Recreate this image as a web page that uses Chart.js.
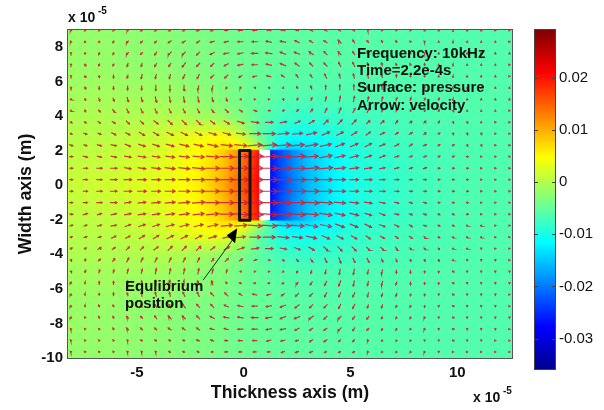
<!DOCTYPE html>
<html>
<head>
    <meta charset="UTF-8" />
    <title>Pressure and velocity</title>
    <script src="https://cdn.jsdelivr.net/npm/chart.js@4.4.9/dist/chart.umd.min.js"></script>
    <style>
        body { margin: 0; background: #fff; }
        canvas { position: absolute; top: 0; }
    </style>
</head>
<body>
    <canvas id="main" width="604" height="410" style="left:0"></canvas>
    <canvas id="bar" width="84" height="410" style="left:520px"></canvas>
<script>
    // axes (x and y in units of 1e-5 m)
    const xMin = -8.22, xMax = 12.56, yMin = -10, yMax = 8.98;
    const xTicks = [-5, 0, 5, 10];
    const yTicks = [-10, -8, -6, -4, -2, 0, 2, 4, 6, 8];
    const colorMin = -0.0358, colorMax = 0.0291;
    const colorTicks = [-0.03, -0.02, -0.01, 0, 0.01, 0.02];

    // pressure surface, in units of 1e-3
    const gridX = [-8.22, -6, -4, -3, -2, -1, -0.22, 0.3, 0.73, 1.24, 1.7, 2.3, 3, 4, 5, 6, 8, 10, 12.56];
    const gridY = [8.98, 7, 5, 4, 3, 2.5, 2.1, 2, 1, 0, -1, -2, -2.1, -2.5, -3, -4, -5, -7, -10];
    const pressure = [
        [-1.9,-2.2,-2.7,-3.1,-3.6,-4,-4.4,-4.6,-4.8,-5,-5.2,-5.4,-5.5,-5.7,-5.9,-6,-6.1,-6.2,-6.2],
        [-1.7,-2,-2.5,-2.9,-3.4,-3.9,-4.4,-4.7,-4.9,-5.1,-5.3,-5.5,-5.7,-5.9,-6,-6.1,-6.2,-6.2,-6.2],
        [-1,-1,-1.2,-1.6,-2.5,-3.2,-4.1,-4.8,-5.1,-5.6,-6,-6.3,-6.5,-6.6,-6.6,-6.5,-6.4,-6.3,-6.2],
        [-0.4,-0.4,-0.2,-0.2,-1.1,-2,-3.3,-4.5,-5.5,-6.5,-7.3,-7.9,-8.1,-8,-7.6,-7.3,-6.7,-6.4,-6.3],
        [0,0.3,1.1,2.2,2.8,3.3,0.8,-2.2,-5.5,-7.5,-9.5,-10.5,-10.5,-9.5,-8.5,-7.8,-7,-6.5,-6.3],
        [0.2,0.6,1.7,3.1,4.5,5.8,4,1,-3,-7,-11,-12.5,-12,-10.8,-9.2,-8.2,-7.1,-6.6,-6.3],
        [0.3,0.8,2,3.3,4.8,6.5,6.5,4,0.5,-9,-13.5,-14.5,-13.5,-11.5,-9.6,-8.4,-7.2,-6.6,-6.3],
        [0.35,0.9,2.1,3.5,5,7.5,12,16,20,-26,-23,-19,-15,-12,-9.8,-8.6,-7.4,-6.6,-6.3],
        [0.8,1.4,2.7,3.8,5.5,8.6,13,17,20.5,-27,-23,-19,-15.5,-12.5,-10,-9,-7.5,-6.6,-6.3],
        [1.2,1.9,3.2,4.3,6,10,14.5,18,21,-28,-24,-20,-16,-12.8,-10,-9.2,-7.5,-6.6,-6.3],
        [0.8,1.4,2.7,3.8,5.5,8.6,13,17,20.5,-27,-23,-19,-15.5,-12.5,-10,-9,-7.5,-6.6,-6.3],
        [0.35,0.9,2.1,3.5,5,7.5,12,16,20,-26,-23,-19,-15,-12,-9.8,-8.6,-7.4,-6.6,-6.3],
        [0.3,0.8,2,3.3,4.8,6.5,6.5,4,0.5,-9,-13.5,-14.5,-13.5,-11.5,-9.6,-8.4,-7.2,-6.6,-6.3],
        [0.2,0.6,1.7,3.1,4.5,5.8,4,1,-3,-7,-11,-12.5,-12,-10.8,-9.2,-8.2,-7.1,-6.6,-6.3],
        [0,0.3,1.1,2.2,2.8,3.3,0.8,-2.2,-5.5,-7.5,-9.5,-10.5,-10.5,-9.5,-8.5,-7.8,-7,-6.5,-6.3],
        [-0.4,-0.4,-0.2,-0.2,-1.1,-2,-3.3,-4.5,-5.5,-6.5,-7.3,-7.9,-8.1,-8,-7.6,-7.3,-6.7,-6.4,-6.3],
        [-1,-1,-1.2,-1.6,-2.5,-3.2,-4.1,-4.8,-5.1,-5.6,-6,-6.3,-6.5,-6.6,-6.6,-6.5,-6.4,-6.3,-6.2],
        [-1.7,-2,-2.5,-2.9,-3.4,-3.9,-4.4,-4.7,-4.9,-5.1,-5.3,-5.5,-5.7,-5.9,-6,-6.1,-6.2,-6.2,-6.2],
        [-1.9,-2.2,-2.7,-3.1,-3.6,-4,-4.4,-4.6,-4.8,-5,-5.2,-5.4,-5.5,-5.7,-5.9,-6,-6.1,-6.2,-6.2]
    ];

    // velocity arrows
    const arrowX = [-8.08,-7.42,-6.76,-6.09,-5.43,-4.77,-4.11,-3.45,-2.79,-2.12,-1.46,-0.8,-0.14,0.53,1.19,1.85,2.51,3.17,3.84,4.5,5.16,5.82,6.48,7.15,7.81,8.47,9.13,9.8,10.46,11.12,11.78,12.44];
    const arrowY = [8.96,8.3,7.63,6.97,6.3,5.64,4.97,4.31,3.64,2.98,2.31,1.65,0.98,0.32,-0.35,-1.01,-1.68,-2.34,-3.01,-3.67,-4.34,-5,-5.67,-6.33,-7,-7.66,-8.33,-8.99,-9.65];
    const arrowU = [
        [-1,-1,-1,-1,-1,-2,-2,-2,-2,-3,-3,-3,-4,-4,-4,-4,-3,-3,-3,-2,-2,-1,-1,-1,-1,0,0,0,0,0,0,0],
        [-1,-1,-1,-1,-2,-2,-2,-3,-3,-3,-4,-4,-5,-5,-5,-5,-4,-3,-3,-3,-2,-2,-1,-1,-1,-1,0,0,0,0,0,0],
        [0,-1,-1,-1,-2,-2,-2,-3,-3,-3,-4,-5,-5,-6,-6,-5,-5,-4,-3,-3,-2,-2,-1,-1,-1,-1,0,0,0,0,0,0],
        [0,0,-1,-1,-1,-1,-2,-2,-3,-3,-3,-4,-5,-5,-5,-5,-4,-3,-3,-2,-2,-1,-1,-1,-1,0,0,0,0,0,0,0],
        [0,0,0,0,-1,-1,-1,-1,-2,-2,-3,-3,-3,-4,-4,-3,-2,-2,-2,-1,-1,-1,-1,0,0,0,0,0,0,0,0,0],
        [0,0,0,0,0,0,0,0,0,-1,-1,-1,-1,-1,-1,0,-1,-1,0,0,0,0,0,0,0,0,0,0,0,0,0,0],
        [1,1,1,1,1,1,1,1,1,1,1,1,1,0,0,1,1,1,1,1,1,1,1,1,1,1,1,0,0,0,0,0],
        [1,1,2,2,2,2,2,2,2,2,2,3,3,3,2,2,2,2,2,2,2,2,1,1,1,1,1,1,0,0,0,0],
        [2,2,3,3,3,3,4,4,4,4,4,5,6,7,7,6,5,5,4,4,4,3,3,2,2,2,1,1,1,0,0,0],
        [2,3,3,4,4,5,5,6,6,6,7,7,8,10,11,10,9,9,7,6,5,4,4,3,3,2,2,1,1,1,1,0],
        [3,3,4,5,5,6,6,7,8,8,9,10,11,12,13,13,12,11,10,8,7,6,5,4,3,3,2,2,1,1,1,1],
        [3,4,4,5,6,7,7,8,9,10,11,12,13,14,14,15,14,12,11,9,8,6,5,4,3,3,2,2,2,1,1,1],
        [3,4,5,6,6,7,8,9,10,11,12,13,13,14,15,15,14,13,12,10,8,7,5,4,3,3,2,2,2,1,1,1],
        [3,4,5,6,7,8,8,9,10,11,12,13,14,14,15,15,15,13,12,10,8,7,5,4,3,3,2,2,2,1,1,1],
        [3,4,5,6,7,8,8,9,10,11,12,13,14,14,15,15,15,13,12,10,8,7,5,4,3,3,2,2,2,1,1,1],
        [3,4,5,6,6,7,8,9,10,11,12,13,13,14,15,15,14,13,12,10,8,7,5,4,3,3,2,2,2,1,1,1],
        [3,4,4,5,6,7,7,8,9,10,11,12,13,14,14,15,14,12,11,9,8,6,5,4,3,3,2,2,2,1,1,1],
        [3,3,4,5,5,6,6,7,8,8,9,10,11,12,13,13,12,11,10,8,7,6,5,4,3,3,2,2,1,1,1,1],
        [2,3,3,4,4,5,5,6,6,6,7,7,8,10,11,10,9,9,7,6,5,4,4,3,3,2,2,1,1,1,1,0],
        [2,2,3,3,3,3,4,4,4,4,4,5,6,7,7,6,5,5,4,4,4,3,3,2,2,2,1,1,1,0,0,0],
        [1,1,2,2,2,2,2,2,2,2,2,3,3,3,2,2,2,2,2,2,2,2,1,1,1,1,1,1,0,0,0,0],
        [1,1,1,1,1,1,1,1,1,1,1,1,1,0,0,-1,-1,-1,-1,-1,-1,-1,-1,0,0,0,0,0,0,0,0,0],
        [0,0,0,0,0,0,0,0,0,-1,-1,-1,-2,-2,-2,-2,-2,-2,-2,-2,-1,-1,-1,-1,0,0,0,0,0,0,0,0],
        [0,0,0,0,-1,-1,-1,-1,-2,-2,-3,-3,-3,-4,-4,-3,-3,-3,-2,-2,-2,-1,-1,-1,0,0,0,0,0,0,0,0],
        [0,0,-1,-1,-1,-1,-2,-2,-3,-3,-3,-4,-5,-5,-5,-5,-4,-3,-3,-2,-2,-1,-1,-1,-1,0,0,0,0,0,0,0],
        [0,-1,-1,-1,-2,-2,-2,-3,-3,-3,-4,-5,-5,-6,-6,-5,-5,-4,-3,-3,-2,-2,-1,-1,-1,-1,0,0,0,0,0,0],
        [-1,-1,-1,-1,-2,-2,-2,-3,-3,-3,-4,-4,-5,-5,-5,-5,-4,-3,-3,-3,-2,-2,-1,-1,-1,-1,0,0,0,0,0,0],
        [-1,-1,-1,-1,-1,-2,-2,-2,-2,-3,-3,-3,-4,-4,-4,-4,-3,-3,-3,-2,-2,-1,-1,-1,-1,0,0,0,0,0,0,0],
        [-1,-1,-1,-1,-1,-1,-1,-2,-2,-2,-2,-3,-3,-3,-3,-3,-3,-3,-2,-2,-2,-1,-1,-1,-1,-1,0,0,0,0,0,0]
    ];
    const arrowV = [
        [-1,-1,-1,-1,-1,-1,-1,-1,-1,-1,-1,0,0,0,1,1,1,2,2,2,2,1,1,1,1,1,1,1,1,1,0,0],
        [-1,-1,-1,-2,-2,-2,-2,-2,-2,-2,-1,-1,0,0,1,1,2,2,2,3,3,2,2,2,1,1,1,1,1,1,1,0],
        [-1,-1,-2,-2,-2,-2,-3,-3,-3,-3,-2,-1,-1,0,1,2,2,3,3,3,3,3,2,2,2,1,1,1,1,1,1,1],
        [-1,-2,-2,-2,-3,-3,-3,-3,-4,-3,-3,-2,-1,0,1,2,3,3,3,4,4,3,3,2,2,2,1,1,1,1,1,0],
        [-1,-2,-2,-3,-3,-4,-4,-4,-4,-4,-3,-3,-2,-1,1,2,3,3,4,4,4,4,3,3,2,2,1,1,1,1,1,0],
        [-2,-2,-3,-3,-4,-4,-5,-5,-5,-4,-4,-2,-1,0,0,1,2,3,4,5,5,4,4,3,3,2,2,1,1,1,1,1],
        [-1,-2,-3,-3,-4,-4,-5,-5,-5,-5,-4,-3,-1,0,0,1,2,3,4,5,5,4,4,3,3,2,2,1,1,1,1,1],
        [-1,-2,-2,-3,-4,-4,-4,-4,-4,-4,-3,-3,-2,-1,0,1,2,3,4,5,4,4,3,3,2,2,2,1,1,1,1,0],
        [-1,-1,-2,-2,-3,-3,-3,-4,-4,-4,-3,-3,-2,-1,0,1,2,3,4,4,4,3,3,3,2,2,2,1,1,1,0,0],
        [-1,-1,-1,-2,-2,-3,-3,-3,-3,-3,-2,-2,-1,0,0,1,1,2,3,3,3,3,2,2,2,2,1,1,1,1,0,0],
        [-1,-1,-1,-1,-2,-2,-2,-2,-2,-2,-2,-1,-1,1,1,1,1,2,2,3,3,3,2,2,2,1,1,1,1,1,0,0],
        [0,-1,-1,-1,-1,-1,-1,-1,-1,-1,-1,0,1,1,1,0,1,1,2,2,2,2,2,1,1,1,1,1,0,0,0,0],
        [0,0,0,0,-1,-1,-1,-1,-1,-1,0,0,0,0,0,0,0,1,1,1,1,1,1,1,1,1,0,0,0,0,0,0],
        [0,0,0,0,0,0,0,0,0,0,0,0,0,0,0,0,0,0,0,0,0,0,0,0,0,0,0,0,0,0,0,0],
        [0,0,0,0,0,0,0,0,0,0,0,0,0,0,0,0,0,0,0,0,0,0,0,0,0,0,0,0,0,0,0,0],
        [0,0,0,0,1,1,1,1,1,1,0,0,0,0,0,0,0,-1,-1,-1,-1,-1,-1,-1,-1,-1,0,0,0,0,0,0],
        [0,1,1,1,1,1,1,1,1,1,1,0,-1,-1,-1,0,-1,-1,-2,-2,-2,-2,-2,-1,-1,-1,-1,-1,0,0,0,0],
        [1,1,1,1,2,2,2,2,2,2,2,1,1,-1,-1,-1,-1,-2,-2,-3,-3,-3,-2,-2,-2,-1,-1,-1,-1,-1,0,0],
        [1,1,1,2,2,3,3,3,3,3,2,2,1,0,0,-1,-1,-2,-3,-3,-3,-3,-2,-2,-2,-2,-1,-1,-1,-1,0,0],
        [1,1,2,2,3,3,3,4,4,4,3,3,2,1,0,-1,-2,-3,-4,-4,-4,-3,-3,-3,-2,-2,-2,-1,-1,-1,0,0],
        [1,2,2,3,4,4,4,4,4,4,3,3,2,1,0,-1,-2,-3,-4,-5,-4,-4,-3,-3,-2,-2,-2,-1,-1,-1,-1,0],
        [1,2,3,3,4,4,5,5,5,5,4,3,1,0,0,-1,-2,-3,-4,-5,-5,-4,-4,-3,-3,-2,-2,-1,-1,-1,-1,-1],
        [2,2,3,3,4,4,5,5,5,4,4,2,1,0,0,-1,-2,-3,-4,-5,-5,-4,-4,-3,-3,-2,-2,-1,-1,-1,-1,-1],
        [1,2,2,3,3,4,4,4,4,4,3,3,2,1,-1,-2,-3,-3,-4,-4,-4,-4,-3,-3,-2,-2,-1,-1,-1,-1,-1,0],
        [1,2,2,2,3,3,3,3,4,3,3,2,1,0,-1,-2,-3,-3,-3,-4,-4,-3,-3,-2,-2,-2,-1,-1,-1,-1,-1,0],
        [1,1,2,2,2,2,3,3,3,3,2,1,1,0,-1,-2,-2,-3,-3,-3,-3,-3,-2,-2,-2,-1,-1,-1,-1,-1,-1,-1],
        [1,1,1,2,2,2,2,2,2,2,1,1,0,0,-1,-1,-2,-2,-2,-3,-3,-2,-2,-2,-1,-1,-1,-1,-1,-1,-1,0],
        [1,1,1,1,1,1,1,1,1,1,1,0,0,0,-1,-1,-1,-2,-2,-2,-2,-1,-1,-1,-1,-1,-1,-1,-1,-1,0,0],
        [1,1,1,1,1,1,1,1,1,1,0,0,0,0,0,-1,-1,-1,-1,-1,-1,-1,-1,-1,-1,-1,-1,0,0,0,0,0]
    ];

    // plate outline, gap beside it and the pointer to it
    const plateX = [-0.19, 0.3, 0.3, -0.19, -0.19, 0.3];
    const plateY = [2, 2, -2.03, -2.03, 2, 2];
    const gapX = [0.73, 1.24, 1.24, 0.73];
    const gapY = [2.03, 2.03, -2.03, -2.03];
    const pointerX = [-1.9, -0.45];
    const pointerY = [-5.5, -3.05];
    const pointerHeadX = [-0.3, -0.79, -0.4];
    const pointerHeadY = [-2.49, -2.9, -3.36];

    const jetStops = [[0, 0, 0, 143], [0.125, 0, 0, 255], [0.375, 0, 255, 255], [0.625, 255, 255, 0], [0.875, 255, 0, 0], [1, 128, 0, 0]];

    function jet(t) {
        t = Math.min(1, Math.max(0, t));
        for (let i = 1; i < jetStops.length; i++) {
            const a = jetStops[i - 1], b = jetStops[i];
            if (t <= b[0]) {
                const f = (t - a[0]) / (b[0] - a[0]);
                return [a[1] + f * (b[1] - a[1]), a[2] + f * (b[2] - a[2]), a[3] + f * (b[3] - a[3])];
            }
        }
    }

    function cellIndex(list, v, descending) {
        for (let i = 0; i < list.length - 2; i++) {
            if (descending ? v >= list[i + 1] : v <= list[i + 1]) return i;
        }
        return list.length - 2;
    }

    // Surface shading, drawn like MATLAB's "shading interp"
    const surfacePlugin = {
        id: 'surface',
        beforeDatasetsDraw(chart) {
            const a = chart.chartArea, sx = chart.scales.x, sy = chart.scales.y;
            const l = Math.round(a.left), t = Math.round(a.top);
            const w = Math.round(a.right) - l, h = Math.round(a.bottom) - t;
            const img = chart.ctx.createImageData(w, h);
            for (let py = 0; py < h; py++) {
                const vy = sy.getValueForPixel(t + py + 0.5);
                const j = cellIndex(gridY, vy, true);
                const fy = Math.min(1, Math.max(0, (vy - gridY[j]) / (gridY[j + 1] - gridY[j])));
                for (let px = 0; px < w; px++) {
                    const vx = sx.getValueForPixel(l + px + 0.5);
                    const i = cellIndex(gridX, vx, false);
                    const fx = Math.min(1, Math.max(0, (vx - gridX[i]) / (gridX[i + 1] - gridX[i])));
                    const top = pressure[j][i] * (1 - fx) + pressure[j][i + 1] * fx;
                    const bot = pressure[j + 1][i] * (1 - fx) + pressure[j + 1][i + 1] * fx;
                    const p = (top * (1 - fy) + bot * fy) / 1000;
                    const c = jet((p - colorMin) / (colorMax - colorMin));
                    const k = (py * w + px) * 4;
                    img.data[k] = c[0]; img.data[k + 1] = c[1]; img.data[k + 2] = c[2]; img.data[k + 3] = 255;
                }
            }
            chart.ctx.putImageData(img, l, t);
        }
    };

    // Frame and texts on top of everything
    const labels = [
        ['Frequency: 10kHz', 357, 58], ['Time=2.2e-4s', 357, 75],
        ['Surface: pressure', 357, 92], ['Arrow: velocity', 357, 110],
        ['Equlibrium', 125, 291], ['position', 125, 308]
    ];
    const overlayPlugin = {
        id: 'overlay',
        afterDatasetsDraw(chart) {
            const c = chart.ctx, a = chart.chartArea;
            c.save();
            c.strokeStyle = '#555';
            c.lineWidth = 1;
            c.strokeRect(Math.round(a.left) - 0.5, Math.round(a.top) - 0.5, a.width + 1, a.height + 1);
            c.fillStyle = '#111';
            c.font = 'bold 15px "Liberation Sans"';
            labels.forEach(t => c.fillText(t[0], t[1], t[2]));
            c.font = 'bold 14px "Liberation Sans"';
            c.fillText('x 10', 68, 22);
            c.fillText('x 10', 473, 402);
            c.font = 'bold 10px "Liberation Sans"';
            c.fillText('-5', 98, 14);
            c.fillText('-5', 503, 394);
            c.restore();
        }
    };

    // Arrow shafts and heads as one broken line, so the scales place them
    function arrowPoints() {
        const pts = [], gap = { x: NaN, y: NaN };
        // one velocity unit is a little over one pixel on these axes
        const kx = 1.15 / 21.35, ky = 1.15 / 17.25;
        arrowY.forEach((y, j) => {
            arrowX.forEach((x, i) => {
                let u = arrowU[j][i], v = arrowV[j][i];
                if (u === 0 && v === 0) u = 0.8;
                const hx = x + u / 2 * kx, hy = y + v / 2 * ky;
                pts.push({ x: x - u / 2 * kx, y: y - v / 2 * ky }, { x: hx, y: hy }, gap);
                const len = Math.hypot(u, v), b = Math.max(1.6, len * 0.33) / len;
                const ca = Math.cos(0.5), sa = Math.sin(0.5);
                pts.push({ x: hx - (u * ca - v * sa) * b * kx, y: hy - (v * ca + u * sa) * b * ky }, { x: hx, y: hy },
                    { x: hx - (u * ca + v * sa) * b * kx, y: hy - (v * ca - u * sa) * b * ky }, gap);
            });
        });
        return pts;
    }

    const zip = (xs, ys) => xs.map((x, i) => ({ x: x, y: ys[i] }));
    const lineBase = { showLine: true, pointRadius: 0, pointHoverRadius: 0, tension: 0 };

    new Chart(document.getElementById('main'), {
        type: 'scatter',
        plugins: [surfacePlugin, overlayPlugin],
        data: {
            datasets: [
                { ...lineBase, label: 'Pointer head', data: zip(pointerHeadX, pointerHeadY), borderWidth: 0, borderColor: '#000', backgroundColor: '#000', fill: 'shape' },
                { ...lineBase, label: 'Pointer', data: zip(pointerX, pointerY), borderWidth: 1, borderColor: '#222' },
                { ...lineBase, label: 'Plate', data: zip(plateX, plateY), borderWidth: 3, borderColor: '#111', borderJoinStyle: 'round' },
                { ...lineBase, label: 'Velocity', data: arrowPoints(), borderWidth: 1.2, borderColor: 'rgba(205,30,55,0.9)', spanGaps: false },
                { ...lineBase, label: 'Gap', data: zip(gapX, gapY), borderWidth: 0, backgroundColor: '#fff', borderColor: '#fff', fill: 'shape' }
            ]
        },
        options: {
            responsive: false,
            animation: false,
            events: [],
            layout: { padding: { top: 30, right: 92, left: 0, bottom: 0 } },
            plugins: { legend: { display: false }, tooltip: { enabled: false } },
            scales: {
                x: {
                    type: 'linear', min: xMin, max: xMax,
                    afterBuildTicks: s => { s.ticks = xTicks.map(v => ({ value: v })); },
                    afterFit: s => { s.height = 52; },
                    grid: { display: false, drawTicks: false }, border: { display: false },
                    ticks: { color: '#111', font: { family: 'Liberation Sans', size: 15, weight: 'bold' }, padding: 6, maxRotation: 0, callback: v => String(v) },
                    title: { display: true, text: 'Thickness axis (m)', color: '#111', font: { family: 'Liberation Sans', size: 17.7, weight: 'bold' }, padding: { top: 0, bottom: 6 } }
                },
                y: {
                    type: 'linear', min: yMin, max: yMax,
                    afterBuildTicks: s => { s.ticks = yTicks.map(v => ({ value: v })); },
                    afterFit: s => { s.width = 68; },
                    grid: { display: false, drawTicks: false }, border: { display: false },
                    ticks: { color: '#111', font: { family: 'Liberation Sans', size: 15, weight: 'bold' }, padding: 5, callback: v => String(v) },
                    title: { display: true, text: 'Width axis (m)', color: '#111', font: { family: 'Liberation Sans', size: 17.7, weight: 'bold' }, padding: { top: 15, bottom: 0 } }
                }
            }
        }
    });

    // Colour bar is its own small chart
    const colorBarTicks = {
        id: 'colorBarTicks',
        afterDatasetsDraw(chart) {
            const c = chart.ctx, a = chart.chartArea, s = chart.scales.y;
            c.save();
            c.strokeStyle = '#444';
            c.lineWidth = 1;
            c.strokeRect(Math.round(a.left) - 0.5, Math.round(a.top) - 0.5, a.width + 1, a.height + 1);
            colorTicks.forEach(v => {
                const y = Math.round(s.getPixelForValue(v)) + 0.5;
                c.beginPath();
                c.moveTo(a.left, y); c.lineTo(a.left + 3, y);
                c.moveTo(a.right - 3, y); c.lineTo(a.right, y);
                c.stroke();
            });
            c.restore();
        }
    };

    new Chart(document.getElementById('bar'), {
        type: 'bar',
        plugins: [colorBarTicks],
        data: {
            labels: ['Pressure'],
            datasets: [{
                data: [[colorMin, colorMax]],
                barPercentage: 1,
                categoryPercentage: 1,
                backgroundColor: ctx => {
                    const a = ctx.chart.chartArea;
                    if (!a) return '#000';
                    const g = ctx.chart.ctx.createLinearGradient(0, a.bottom, 0, a.top);
                    jetStops.forEach(s => g.addColorStop(s[0], `rgb(${s[1]},${s[2]},${s[3]})`));
                    return g;
                }
            }]
        },
        options: {
            responsive: false,
            animation: false,
            events: [],
            layout: { padding: { top: 30, left: 15, right: 0, bottom: 41 } },
            plugins: { legend: { display: false }, tooltip: { enabled: false } },
            scales: {
                x: { display: false },
                y: {
                    position: 'right', min: colorMin, max: colorMax,
                    afterBuildTicks: s => { s.ticks = colorTicks.map(v => ({ value: v })); },
                    afterFit: s => { s.width = 49; },
                    grid: { display: false, drawTicks: false }, border: { display: false },
                    ticks: { color: '#111', font: { family: 'Liberation Sans', size: 15 }, padding: 4, callback: v => String(v) }
                }
            }
        }
    });
</script>
</body>
</html>
